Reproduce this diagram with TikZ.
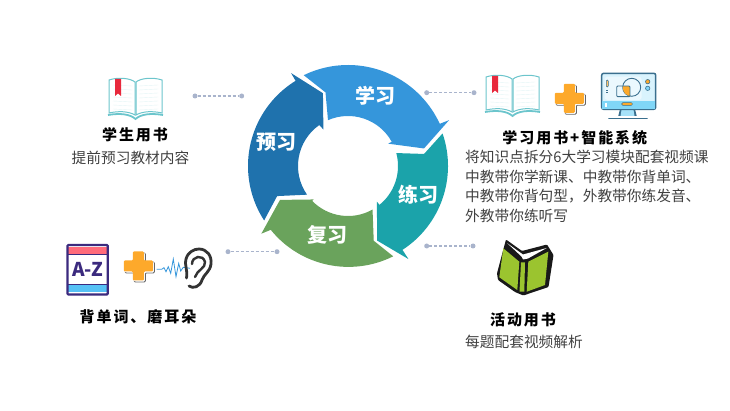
\documentclass[tikz,border=0pt]{standalone}
\usepackage{fontspec}
\setmainfont{Noto Sans CJK SC}
\newfontfamily\titlefont[LetterSpace=13]{Noto Sans CJK SC}
\definecolor{ringblue}{HTML}{3596DB}
\definecolor{ringteal}{HTML}{1BA3AA}
\definecolor{ringgreen}{HTML}{6AA35C}
\definecolor{ringdark}{HTML}{1F72AD}
\definecolor{dashgrey}{HTML}{A9B4CC}
\definecolor{plusorange}{HTML}{FDA92B}
\definecolor{booklake}{HTML}{6CC5CC}
\definecolor{bookgreen}{HTML}{9BC42F}
\definecolor{screenline}{HTML}{3A6F8E}
\definecolor{azpurple}{HTML}{3B2A7E}
\definecolor{azred}{HTML}{FF6B7A}
\definecolor{azblue}{HTML}{56C1F5}
\definecolor{markred}{HTML}{E8283C}
\def\crosspath{(-5.5,-14.5) -- (5.5,-14.5) -- (5.5,-5.5) -- (14.5,-5.5) -- (14.5,5.5) -- (5.5,5.5) -- (5.5,14.5) -- (-5.5,14.5) -- (-5.5,5.5) -- (-14.5,5.5) -- (-14.5,-5.5) -- (-5.5,-5.5) -- cycle}
\tikzset{
    ringlabel/.style={text=white, font=\fontsize{20}{20}\selectfont\bfseries, inner sep=0pt},
    titletext/.style={text=black, font=\fontsize{15}{15}\selectfont\titlefont\bfseries, inner sep=0pt},
    bodytext/.style={text=black!75, font=\fontsize{14.7}{19.6}\selectfont, inner sep=0pt},
    dashend/.style={circle, fill=dashgrey, inner sep=0pt, minimum size=5pt},
    dashline/.style={draw=dashgrey, line width=1.2pt, dash pattern=on 3pt off 2pt},
    plusmark/.pic={
        \draw[black!60, line width=.9pt, rounded corners=1pt, shift={(1.5,1.5)}] \crosspath;
        \fill[white, rounded corners=1pt, shift={(.7,.7)}] \crosspath;
        \fill[plusorange, rounded corners=1pt] \crosspath;
    },
    openbook/.pic={
        \draw[booklake, fill=white, line width=1pt] (1,3) .. controls (10,0) and (22,1) .. (27,5) -- (27,38) .. controls (20,34) and (10,34) .. (1,36) -- cycle;
        \draw[booklake, fill=white, line width=1pt] (54,3) .. controls (45,0) and (33,1) .. (28,5) -- (28,38) .. controls (35,34) and (45,34) .. (54,36) -- cycle;
        \foreach \liney in {8,12,...,32} {
            \draw[booklake!18, line width=.4pt] (5,\liney) -- (24,\liney+1);
            \draw[booklake!18, line width=.4pt] (31,\liney+1) -- (50,\liney);
        }
        \fill[markred] (7,2) -- (13,2) -- (13,19) -- (10,16.5) -- (7,19) -- cycle;
        \draw[booklake, line width=1.8pt] (0,38) .. controls (12,36) and (22,37) .. (27.5,42) .. controls (33,37) and (43,36) .. (55,38);
    }
}
\begin{document}
\begin{tikzpicture}[x=1pt, y=-1pt]
    \useasboundingbox (0,0) rectangle (730,411);
    % ring
    \begin{scope}[shift={(348,166)}]
        \fill[ringblue] (116:101pt) arc[start angle=116, end angle=24.7, radius=101pt] -- (24.4:111pt) -- (13:78pt) -- (29:46pt) -- (29:50pt) arc[start angle=29, end angle=113.6, radius=50pt] -- (107:77pt) -- cycle;
        \fill[ringteal] (19:100pt) arc[start angle=19, end angle=-57, radius=100pt] -- (-57:111pt) -- (-68.7:80pt) -- (-51:46pt) -- (-51:50pt) arc[start angle=-51, end angle=10, radius=50pt] -- (15:50pt) -- (9:77pt) -- cycle;
        \fill[ringgreen] (-63.4:101pt) arc[start angle=-63.4, end angle=-141, radius=100pt] -- (-142:110pt) -- (-153.5:76pt) -- (-135.8:48pt) -- (-135.8:50pt) arc[start angle=-135.8, end angle=-60.6, radius=50pt] -- (-71:79pt) -- cycle;
        \fill[ringdark] (-147:100pt) arc[start angle=-147, end angle=-238.4, radius=100pt] -- (121.5:109pt) -- (109:77pt) -- (124:44pt) -- (125:50pt) arc[start angle=125, end angle=215, radius=50pt] -- (-157:77pt) -- cycle;
    \end{scope}
    \node[ringlabel] (study) at (375,95.7) {学习};
    \node[ringlabel] (preview) at (276.7,142.7) {预习};
    \node[ringlabel] (practice) at (418.3,195) {练习};
    \node[ringlabel] (review) at (327.7,235) {复习};
    % dashed leaders
    \node[dashend] (leadera) at (195,96) {};
    \node[dashend] (leaderb) at (241.7,96) {};
    \node[dashend] (leaderc) at (426.7,92.7) {};
    \node[dashend] (leaderd) at (474,92.7) {};
    \node[dashend] (leadere) at (228,251.7) {};
    \node[dashend] (leaderf) at (277,251.7) {};
    \node[dashend] (leaderg) at (426.7,246) {};
    \node[dashend] (leaderh) at (473,246) {};
    \draw[dashline] (leadera) -- (leaderb);
    \draw[dashline] (leaderc) -- (leaderd);
    \draw[dashline] (leadere) -- (leaderf);
    \draw[dashline] (leaderg) -- (leaderh);
    % student book
    \pic at (108,77) {openbook};
    \node[titletext] (studentbook) at (135,135) {学生用书};
    \node[bodytext] (studentnote) at (130.5,158) {提前预习教材内容};
    % study book and system
    \pic at (485,74) {openbook};
    \pic at (569.3,98.3) {plusmark};
    \fill[screenline] (618.3,116) -- (620,109) -- (635,109) -- (636.7,116) -- cycle;
    \fill[cyan!35!white] (620.5,116) -- (621.5,110) -- (633.5,110) -- (634.5,116) -- cycle;
    \draw[screenline, line width=1.8pt, line cap=round] (609,118.5) -- (647,118.5);
    \draw[screenline, fill=cyan!15!white, line width=1.5pt, rounded corners=2pt] (601.7,73.3) rectangle (655.7,109.3);
    \fill[cyan!50!white] (602.4,100.7) rectangle (655,108.6);
    \fill[white!92!cyan, rounded corners=3pt] (604.5,76.7) rectangle (641.7,100);
    \draw[screenline, line width=.9pt] (631.7,87.3) circle[radius=9pt];
    \begin{scope}
        \clip (631.7,87.3) circle[radius=9pt];
        \fill[plusorange] (616.7,86) rectangle (630,96.7);
    \end{scope}
    \draw[screenline, line width=.9pt, rounded corners=1pt] (616.7,86) rectangle (630,96.7);
    \draw[screenline, fill=plusorange!70!white, line width=.6pt, rounded corners=1pt] (606.3,80) rectangle (608.3,87);
    \draw[screenline, line width=.6pt] (606.3,90) -- (608.3,90) (606.3,92.5) -- (608.3,92.5);
    \draw[screenline, fill=plusorange, line width=.6pt] (647.7,81.7) circle[radius=2.2pt];
    \draw[screenline, fill=cyan!50!white, line width=.6pt] (647.7,88.3) circle[radius=2.2pt];
    \draw[screenline, fill=plusorange, line width=.5pt, rounded corners=1pt] (621.7,102.7) rectangle (632.3,105.3);
    \fill[white] (604.5,103.5) rectangle (606.5,107);
    \node[titletext] (studysystem) at (574.8,138) {学习用书+智能系统};
    \node[bodytext, anchor=north west, align=left] (studynote) at (465,150) {将知识点拆分6大学习模块配套视频课\\中教带你学新课、中教带你背单词、\\中教带你背句型，外教带你练发音、\\外教带你练听写};
    % words and ear
    \fill[azred] (67.7,247) rectangle (107.3,254.3);
    \fill[azblue] (67.7,285) rectangle (107.3,292);
    \draw[azpurple, line width=2.2pt, rounded corners=1pt] (67.4,245) rectangle (107.8,294.5);
    \draw[azpurple, line width=1.4pt] (67.4,254.8) -- (107.8,254.8) (67.4,284.6) -- (107.8,284.6);
    \node[inner sep=0pt, text=azpurple, font=\fontsize{19}{19}\selectfont\bfseries] (azmark) at (87.7,269) {A-Z};
    \pic at (138.3,266) {plusmark};
    \draw[ringblue, line width=.8pt] (156.7,269.3) -- (161.7,269.3) -- (164,267.7) -- (166,271.7) -- (168.3,266.7) -- (170.7,273.3) -- (173.3,259) -- (176,276.7) -- (178.7,263.3) -- (180.7,271) -- (183.3,267.3) -- (190,268.3);
    \draw[black!80, line width=2.8pt, line cap=round] (186.5,278) .. controls (188,270) and (184,264) .. (186,259) .. controls (188,252) and (194,249) .. (199,249) .. controls (207,249) and (212,256) .. (211,264) .. controls (210,272) and (204,274) .. (202,280) .. controls (200,287) and (193,289) .. (189,286);
    \draw[black!80, line width=2.4pt, line cap=round] (192,264) .. controls (192,256) and (203,254) .. (205,262) .. controls (206,268) and (197,270) .. (195,277);
    \node[titletext] (wordsear) at (138,316.7) {背单词、磨耳朵};
    % activity book
    \fill[black!90, rounded corners=1pt] (506,239.5) -- (522,251) -- (547,244.5) -- (553.5,255) -- (548.5,287) -- (523.3,295.5) -- (515,292) -- (498,280) -- (497,273.3) -- cycle;
    \fill[white] (507,243) -- (521.7,256.7) -- (523,259.5) -- (528,258.5) -- (546.7,248) -- (523,254.5) -- cycle;
    \fill[bookgreen] (503.3,248.3) -- (519.3,261.7) -- (517.3,290) -- (499.3,277.3) -- cycle;
    \fill[bookgreen] (521,262.3) -- (525,262.3) -- (524.3,291.7) -- (519.5,291.7) -- cycle;
    \fill[bookgreen] (528.3,261.7) -- (548.3,251.7) -- (545,285) -- (526.7,291.7) -- cycle;
    \node[titletext] (activitybook) at (523,320) {活动用书};
    \node[bodytext] (activitynote) at (524,341.7) {每题配套视频解析};
\end{tikzpicture}
\end{document}
